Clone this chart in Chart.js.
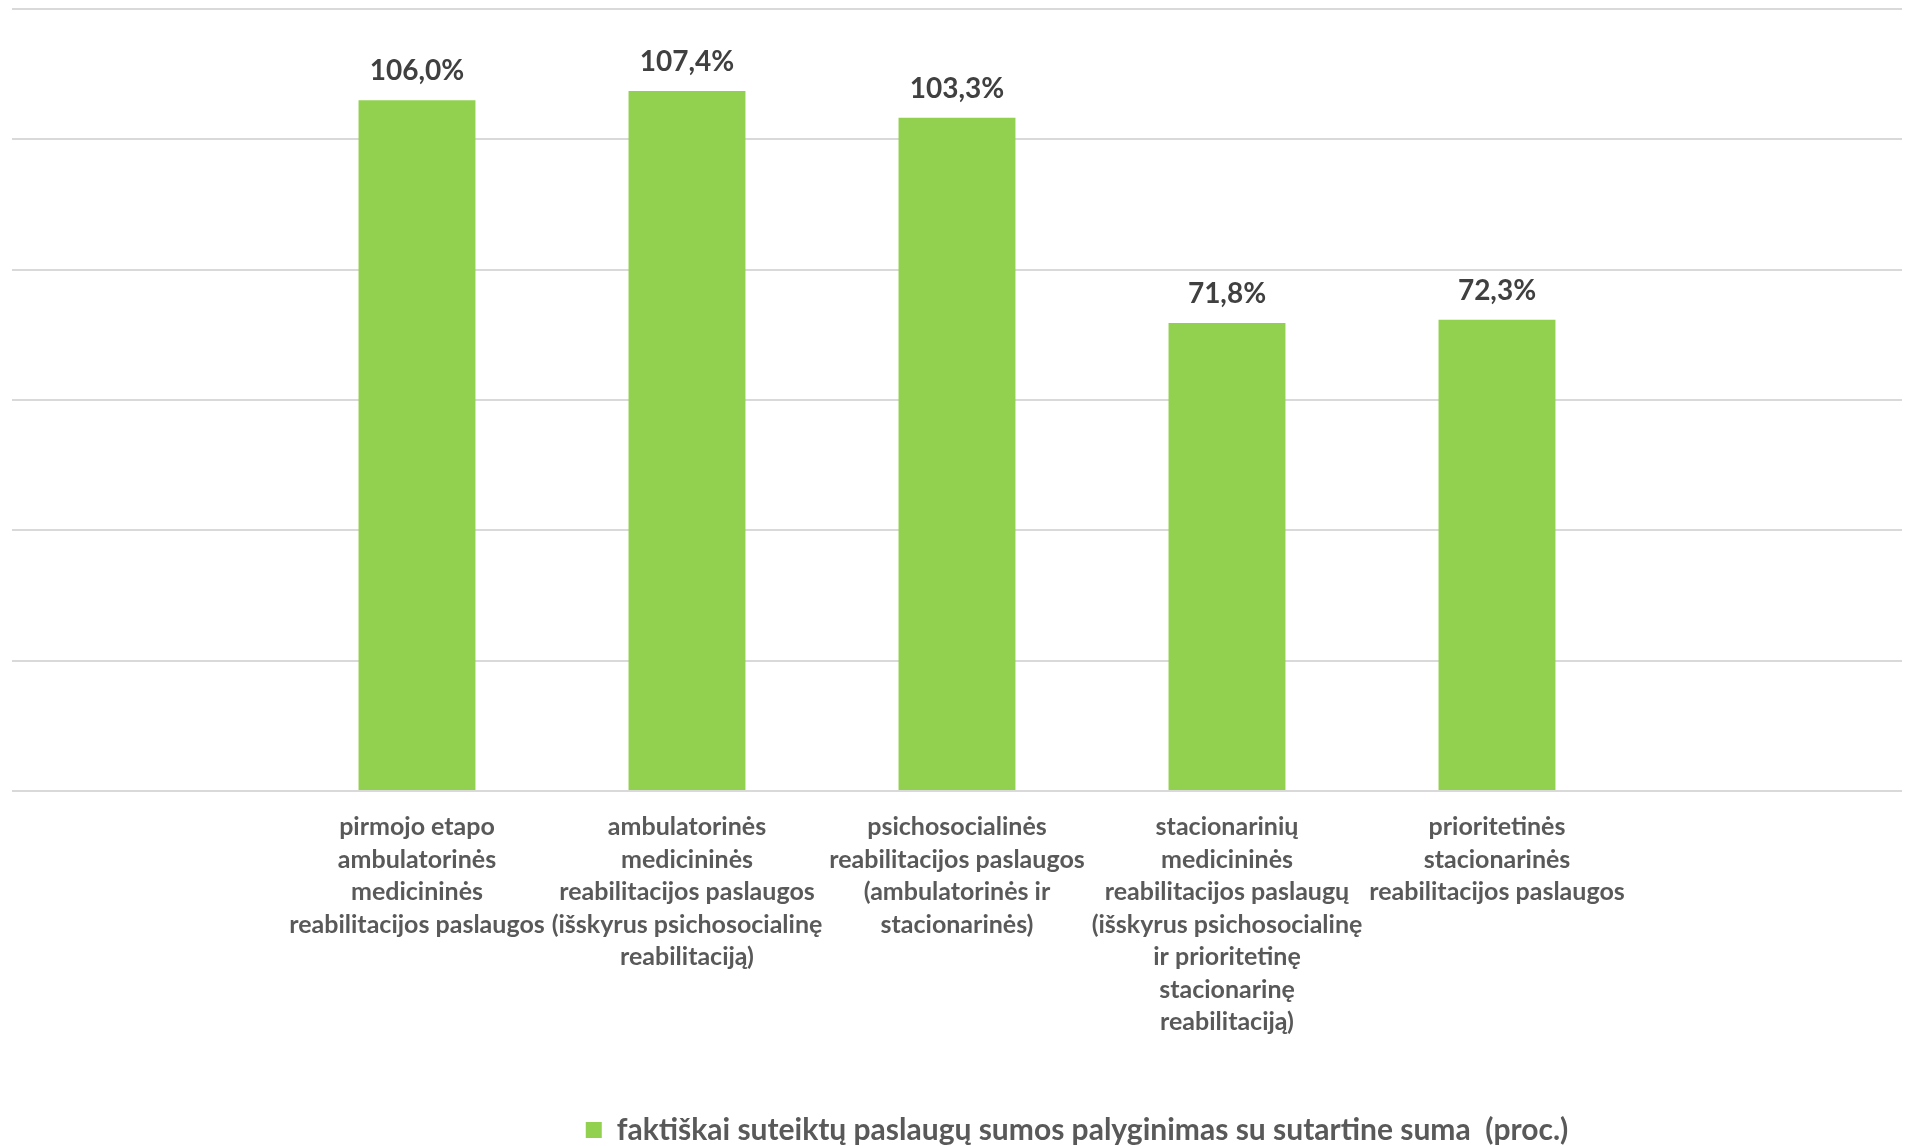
<!DOCTYPE html>
<html>
<head>
<meta charset="utf-8">
<script src="https://cdn.jsdelivr.net/npm/chart.js@4"></script>
<style>
  html, body { margin: 0; padding: 0; background: #ffffff; }
  #wrap { width: 1911px; height: 1146px; position: relative; }
</style>
</head>
<body>
<div id="wrap"><canvas id="c"></canvas></div>
<script>
// ---- data ----
const categories = [
  ["pirmojo etapo", "ambulatorinės", "medicininės", "reabilitacijos paslaugos"],
  ["ambulatorinės", "medicininės", "reabilitacijos paslaugos", "(išskyrus psichosocialinę", "reabilitaciją)"],
  ["psichosocialinės", "reabilitacijos paslaugos", "(ambulatorinės ir", "stacionarinės)"],
  ["stacionarinių", "medicininės", "reabilitacijos paslaugų", "(išskyrus psichosocialinę", "ir prioritetinę", "stacionarinę", "reabilitaciją)"],
  ["prioritetinės", "stacionarinės", "reabilitacijos paslaugos"]
];
const values = [106.0, 107.4, 103.3, 71.8, 72.3];
const seriesName = "faktiškai suteiktų paslaugų sumos palyginimas su sutartine suma  (proc.)";
const yTicks = [0, 20, 40, 60, 80, 100, 120];

// empty slots on both sides, as in the original layout
const labels = [[""], ...categories, [""]];
const data = [null, ...values, null];

const FONT = "Lato";
const GREEN = "#92D050";

const valueLabels = {
  id: "valueLabels",
  afterDatasetsDraw(chart) {
    const ctx = chart.ctx;
    const meta = chart.getDatasetMeta(0);
    ctx.save();
    ctx.font = "bold 28px " + FONT;
    ctx.fillStyle = "#404040";
    ctx.textAlign = "center";
    ctx.textBaseline = "alphabetic";
    meta.data.forEach((bar, i) => {
      const v = chart.data.datasets[0].data[i];
      if (v === null || v === undefined) return;
      const txt = v.toFixed(1).replace(".", ",") + "%";
      ctx.fillText(txt, bar.x, bar.y - 20);
    });
    ctx.restore();
  }
};

const shiftLegend = {
  id: "shiftLegend",
  afterLayout(chart) {
    const l = chart.legend;
    if (l) { l.left += 120; l.right += 120; }
  }
};

new Chart(document.getElementById("c"), {
  type: "bar",
  data: {
    labels: labels,
    datasets: [{
      label: seriesName,
      data: data,
      backgroundColor: GREEN,
      borderWidth: 0,
      categoryPercentage: 1.0,
      barPercentage: 0.433
    }]
  },
  options: {
    responsive: true,
    maintainAspectRatio: false,
    animation: false,
    layout: { padding: { top: 9, left: 12, right: 9, bottom: 0 } },
    plugins: {
      tooltip: { enabled: false },
      legend: {
        position: "bottom",
        maxHeight: 41,
        labels: {
          boxWidth: 16,
          boxHeight: 16,
          padding: 10,
          color: "#595959",
          font: { family: FONT, size: 30, weight: "bold" }
        }
      }
    },
    scales: {
      x: {
        grid: { display: false },
        border: { display: false },
        ticks: {
          color: "#595959",
          font: { family: FONT, size: 25, weight: "bold", lineHeight: 1.3 },
          padding: 12,
          maxRotation: 0,
          minRotation: 0,
          autoSkip: false
        },
        afterFit(scale) { scale.height = 314; }
      },
      y: {
        min: yTicks[0],
        max: yTicks[yTicks.length - 1],
        afterBuildTicks(scale) { scale.ticks = yTicks.map(v => ({ value: v })); },
        ticks: { display: false },
        grid: { color: "#D9D9D9", lineWidth: 2, drawTicks: false },
        border: { display: false }
      }
    }
  },
  plugins: [valueLabels, shiftLegend]
});
</script>
</body>
</html>
